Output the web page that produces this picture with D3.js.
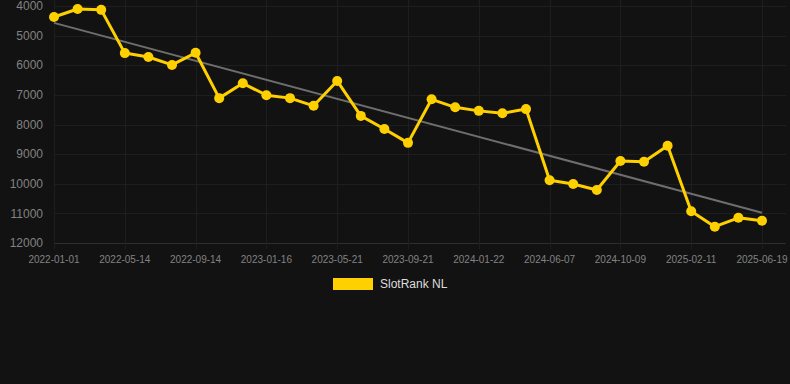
<!DOCTYPE html>
<html>
<head>
<meta charset="utf-8">
<script src="https://cdn.jsdelivr.net/npm/d3@7"></script>
<style>
  html, body { margin: 0; padding: 0; background: #121212; }
  svg { display: block; font-family: "Helvetica Neue", Arial, "Liberation Sans", sans-serif; }
</style>
</head>
<body>
<div id="chart"></div>
<script>
// SlotRank NL rank over time (lower rank number = better; axis reversed)
const SERIES_NAME = 'SlotRank NL';
const rankValues = [
  4370, 4100, 4130, 5590, 5720, 5990, 5580, 7110, 6610, 7010,
  7110, 7370, 6530, 7710, 8150, 8620, 7150, 7420, 7540, 7620,
  7480, 9880, 10010, 10210, 9230, 9260, 8720, 10930, 11450, 11150,
  11250,
];
// Date labels shown on every third point
const tickLabels = [
  '2022-01-01', '2022-05-14', '2022-09-14', '2023-01-16', '2023-05-21',
  '2023-09-21', '2024-01-22', '2024-06-07', '2024-10-09', '2025-02-11',
  '2025-06-19',
];
const LABEL_EVERY = 3;
const yTicks = [4000, 5000, 6000, 7000, 8000, 9000, 10000, 11000, 12000];

const W = 790, H = 384;
const M = { left: 54, right: 28, top: 6, bottom: 141 };
const LINE_COLOR = '#ffd000';
const GRID = '#1e1e1e';

const svg = d3.select('#chart').append('svg').attr('width', W).attr('height', H);
svg.append('rect').attr('width', W).attr('height', H).attr('fill', '#121212');

const idx = d3.range(rankValues.length);
const x = d3.scalePoint().domain(idx).range([M.left, 762]);
const y = d3.scaleLinear().domain([4000, 12000]).range([M.top, H - M.bottom]);

// Horizontal grid
svg.append('g')
  .selectAll('line').data(yTicks).join('line')
  .attr('x1', M.left).attr('x2', W - 4)
  .attr('y1', d => Math.round(y(d)) + 0.5).attr('y2', d => Math.round(y(d)) + 0.5)
  .attr('stroke', d => d === 12000 ? '#2e2e2e' : GRID).attr('stroke-width', 1);

// Vertical grid at labelled ticks
const tickIdx = idx.filter(i => i % LABEL_EVERY === 0);
svg.append('g')
  .selectAll('line').data(tickIdx).join('line')
  .attr('x1', d => Math.round(x(d)) + 0.5).attr('x2', d => Math.round(x(d)) + 0.5)
  .attr('y1', 0).attr('y2', y(12000) + 6)
  .attr('stroke', GRID).attr('stroke-width', 1);

// Y axis labels
svg.append('g')
  .selectAll('text').data(yTicks).join('text')
  .attr('x', 43).attr('y', d => y(d))
  .attr('dy', '0.35em').attr('text-anchor', 'end')
  .attr('fill', '#828282').style('font-size', '12px')
  .text(d => d);

// X axis labels
svg.append('g')
  .selectAll('text').data(tickIdx).join('text')
  .attr('x', d => x(d)).attr('y', 259)
  .attr('dy', '0.35em').attr('text-anchor', 'middle')
  .attr('fill', '#828282').style('font-size', '10px')
  .text(d => tickLabels[d / LABEL_EVERY]);

// Linear trend (least squares over the series)
const n = rankValues.length;
const mx = d3.mean(idx), my = d3.mean(rankValues);
const slope = d3.sum(idx, i => (i - mx) * (rankValues[i] - my)) / d3.sum(idx, i => (i - mx) ** 2);
const icpt = my - slope * mx;
svg.append('line')
  .attr('x1', x(0)).attr('y1', y(icpt))
  .attr('x2', x(n - 1)).attr('y2', y(icpt + slope * (n - 1)))
  .attr('stroke', '#6e6e6e').attr('stroke-width', 2);

// Series line + points
const line = d3.line().x(i => x(i)).y(i => y(rankValues[i]));
svg.append('path').datum(idx)
  .attr('d', line).attr('fill', 'none')
  .attr('stroke', LINE_COLOR).attr('stroke-width', 3)
  .attr('stroke-linejoin', 'round');

svg.append('g')
  .selectAll('circle').data(idx).join('circle')
  .attr('cx', i => x(i)).attr('cy', i => y(rankValues[i]))
  .attr('r', 5).attr('fill', LINE_COLOR);

// Legend
const lg = svg.append('g').attr('transform', 'translate(333,278)');
lg.append('rect').attr('width', 40).attr('height', 12).attr('fill', LINE_COLOR);
lg.append('text').attr('x', 47).attr('y', 6).attr('dy', '0.35em')
  .attr('fill', '#dddddd').style('font-size', '12px').text(SERIES_NAME);
</script>
</body>
</html>
